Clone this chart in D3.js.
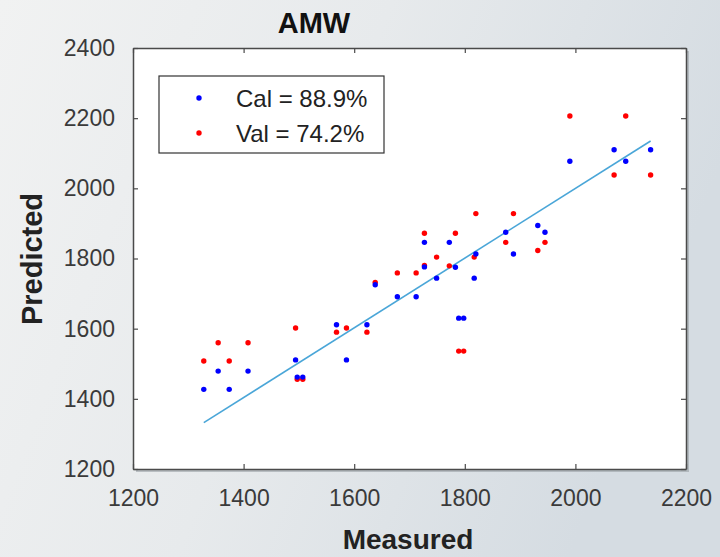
<!DOCTYPE html>
<html><head><meta charset="utf-8">
<script src="https://cdn.jsdelivr.net/npm/d3@7"></script>
<style>html,body{margin:0;padding:0;overflow:hidden;}</style>
</head><body>
<script>
// ---- data ----
const measured = [1328,1354,1374,1408,1494,1497,1507,1568,1586,1623,1638,1678,1712,1727,1749,
                  1772,1783,1789,1798,1817,1820,1874,1888,1932,1945,1990,2070,2091,2136];
const calPred  = [1427,1479,1427,1479,1511,1462,1462,1611,1511,1611,1725,1691,1691,1846,1744,
                  1846,1775,1630,1630,1744,1813,1875,1813,1894,1875,2077,2110,2077,2110];
const valPred  = [1508,1560,1508,1560,1602,1456,1456,1590,1602,1590,1732,1759,1759,1872,1804,
                  1779,1872,1536,1536,1804,1928,1846,1928,1823,1846,2206,2038,2206,2038];
const extraX   = [1727];
const calExtra = [1776];
const valExtra = [1780];
const fitX = [1328, 2136];
const fitY = [1332, 2135];
const xTicks = [1200,1400,1600,1800,2000,2200];
const yTicks = [1200,1400,1600,1800,2000,2200,2400];
const legendLabels = ["Cal = 88.9%","Val = 74.2%"];
const colors = ["#0000ff","#ff0000"];

const W=720,H=557;
const m={l:133,r:686,t:48,b:469};
const svg=d3.select("body").append("svg").attr("width",W).attr("height",H);
const defs=svg.append("defs");
const g=defs.append("linearGradient").attr("id","bg").attr("x1","0").attr("y1","0").attr("x2","1").attr("y2","0.3");
g.append("stop").attr("offset","0").attr("stop-color","#f1f2f2");
g.append("stop").attr("offset","0.5").attr("stop-color","#e7eaec");
g.append("stop").attr("offset","1").attr("stop-color","#d5dce2");
svg.append("rect").attr("width",W).attr("height",H).attr("fill","url(#bg)");

const x=d3.scaleLinear().domain([1200,2200]).range([m.l,m.r]);
const y=d3.scaleLinear().domain([1200,2400]).range([m.b,m.t]);

svg.append("rect").attr("x",m.l+3).attr("y",m.t+3).attr("width",m.r-m.l).attr("height",m.b-m.t).attr("fill","#9aa0a5").attr("opacity",0.6);
svg.append("rect").attr("x",m.l).attr("y",m.t).attr("width",m.r-m.l).attr("height",m.b-m.t).attr("fill","#fff");

const font="'Liberation Sans', Arial, sans-serif";
const fmt=d3.format("d");
const ax=svg.append("g").attr("transform",`translate(0,${m.b})`).call(d3.axisBottom(x).tickValues(xTicks).tickFormat(fmt).tickSizeInner(-5).tickSizeOuter(0).tickPadding(21));
const axT=svg.append("g").attr("transform",`translate(0,${m.t})`).call(d3.axisTop(x).tickValues(xTicks).tickSizeInner(-5).tickSizeOuter(0).tickFormat(""));
const ay=svg.append("g").attr("transform",`translate(${m.l},0)`).call(d3.axisLeft(y).tickValues(yTicks).tickFormat(fmt).tickSizeInner(-5).tickSizeOuter(0).tickPadding(18));
const ayR=svg.append("g").attr("transform",`translate(${m.r},0)`).call(d3.axisRight(y).tickValues(yTicks).tickSizeInner(-5).tickSizeOuter(0).tickFormat(""));
[ax,axT,ay,ayR].forEach(a=>{
  a.select(".domain").attr("stroke","#4a4a4a").attr("stroke-width",1.5);
  a.selectAll(".tick line").attr("stroke","#4a4a4a").attr("stroke-width",1.2);
  a.selectAll(".tick text").attr("font-family",font).attr("font-size",23).attr("fill","#3a3a3a");
});
ax.selectAll(".tick text").attr("dy","0.71em");

svg.append("line").attr("x1",x(fitX[0])).attr("y1",y(fitY[0])).attr("x2",x(fitX[1])).attr("y2",y(fitY[1]))
  .attr("stroke","#4aa6d8").attr("stroke-width",1.6);

const calPts=measured.map((d,i)=>[d,calPred[i]]).concat(extraX.map((d,i)=>[d,calExtra[i]]));
const valPts=measured.map((d,i)=>[d,valPred[i]]).concat(extraX.map((d,i)=>[d,valExtra[i]]));
svg.append("g").selectAll("circle").data(valPts).join("circle")
  .attr("cx",d=>x(d[0])).attr("cy",d=>y(d[1])).attr("r",2.7).attr("fill",colors[1]);
svg.append("g").selectAll("circle").data(calPts).join("circle")
  .attr("cx",d=>x(d[0])).attr("cy",d=>y(d[1])).attr("r",2.7).attr("fill",colors[0]);

const lg=svg.append("g");
lg.append("rect").attr("x",159).attr("y",76).attr("width",225).attr("height",77).attr("fill","#fff").attr("stroke","#333").attr("stroke-width",1.2);
legendLabels.forEach((t,i)=>{
  lg.append("circle").attr("cx",199).attr("cy",98+i*35).attr("r",2.7).attr("fill",colors[i]);
  lg.append("text").attr("x",236).attr("y",107+i*35).attr("font-family",font).attr("font-size",24).attr("fill","#222").text(t);
});

svg.append("text").attr("x",314).attr("y",33).attr("text-anchor","middle").attr("font-family",font).attr("font-weight","bold").attr("font-size",29).attr("fill","#111").text("AMW");
svg.append("text").attr("x",408).attr("y",549).attr("text-anchor","middle").attr("font-family",font).attr("font-weight","bold").attr("font-size",28).attr("fill","#222").text("Measured");
svg.append("text").attr("transform","translate(42,259) rotate(-90)").attr("text-anchor","middle").attr("font-family",font).attr("font-weight","bold").attr("font-size",29).attr("fill","#222").text("Predicted");
</script>
</body></html>
